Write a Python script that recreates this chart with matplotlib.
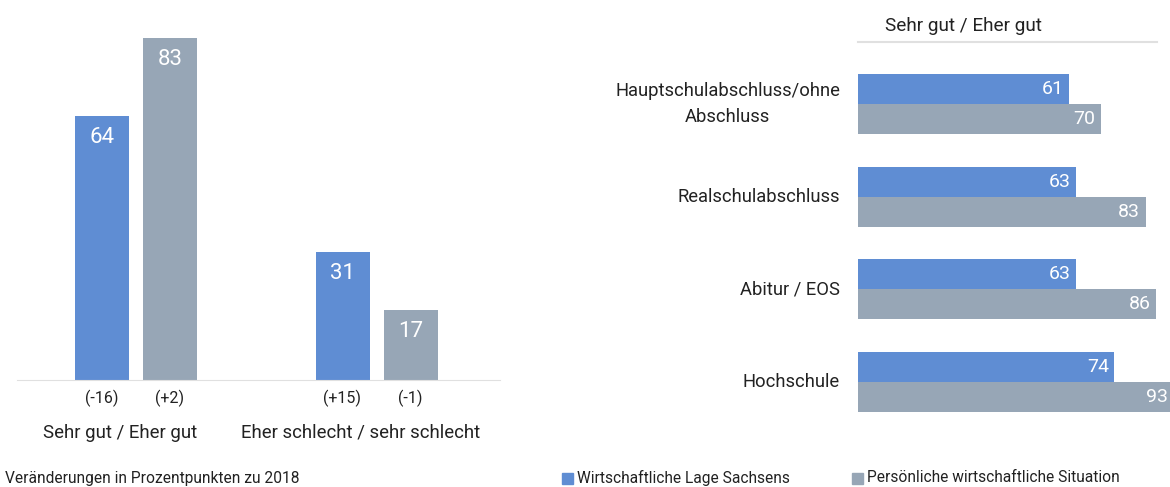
import matplotlib
matplotlib.use("Agg")
import matplotlib.pyplot as plt
from matplotlib import font_manager
from matplotlib.patches import Rectangle

# pick a narrow face if there is one
names = {f.name for f in font_manager.fontManager.ttflist}
font = "Liberation Sans Narrow" if "Liberation Sans Narrow" in names else "Roboto"
plt.rcParams["font.family"] = [font, "DejaVu Sans"]

BLUE = "#5f8dd3"
GRAY = "#97a6b6"
TEXT = "#222222"

# left chart
left_cats = ["Sehr gut / Eher gut", "Eher schlecht / sehr schlecht"]
left_sachsen = [64, 31]
left_persoenlich = [83, 17]
left_change_sachsen = ["(-16)", "(+15)"]
left_change_persoenlich = ["(+2)", "(-1)"]

# right chart
right_cats = ["Hauptschulabschluss/ohne\nAbschluss", "Realschulabschluss", "Abitur / EOS", "Hochschule"]
right_sachsen = [61, 63, 63, 74]
right_persoenlich = [70, 83, 86, 93]

legend_labels = ["Wirtschaftliche Lage Sachsens", "Persönliche wirtschaftliche Situation"]

W, H = 1170, 487
fig = plt.figure(figsize=(W / 100, H / 100), dpi=100)

# ---- left bar chart ----
axl = fig.add_axes([17 / W, (H - 380) / H, 483 / W, 342 / H])
step = 240.5
bw = 54 / step
off = 34 / step
xs = list(range(len(left_cats)))
xb = [x - off for x in xs]
xg = [x + off for x in xs]
axl.bar(xb, left_sachsen, width=bw, color=BLUE)
axl.bar(xg, left_persoenlich, width=bw, color=GRAY)
axl.set_xlim((17 - 136) / step, (500 - 136) / step)
axl.set_ylim(0, 83)
for s in ["top", "right", "left"]:
    axl.spines[s].set_visible(False)
axl.spines["bottom"].set_color("#e0e0e0")
axl.set_yticks([])
axl.set_xticks([])
for x, v in zip(xb + xg, left_sachsen + left_persoenlich):
    axl.annotate(str(v), (x, v), xytext=(0, -8), textcoords="offset points",
                 ha="center", va="top", color="white", fontsize=16)
for x, t in zip(xb + xg, left_change_sachsen + left_change_persoenlich):
    axl.annotate(t, (x, 0), xytext=(0, -13), textcoords="offset points",
                 ha="center", va="center", color=TEXT, fontsize=11.5)
for x, t in zip(xs, left_cats):
    axl.annotate(t, (x - 16 / step, 0), xytext=(0, -38), textcoords="offset points",
                 ha="center", va="center", color=TEXT, fontsize=13.4)

# ---- right horizontal bar chart ----
px = 3.465
gap = 92.7
bh = 30 / gap
axr = fig.add_axes([858 / W, (H - 412) / H, (93 * px) / W, 370 / H])
ys = list(range(len(right_cats)))
yb = [y - bh / 2 for y in ys]
yg = [y + bh / 2 for y in ys]
axr.barh(yb, right_sachsen, height=bh, color=BLUE)
axr.barh(yg, right_persoenlich, height=bh, color=GRAY)
axr.set_xlim(0, 93)
axr.set_ylim(3 + bh, -(104 - 42) / gap)
for s in ["bottom", "right", "left"]:
    axr.spines[s].set_visible(False)
axr.spines["top"].set_color("#e0e0e0")
axr.spines["top"].set_linewidth(1.5)
axr.spines["top"].set_bounds(0, (1157 - 858) / px)
axr.set_xticks([])
axr.set_yticks(ys, right_cats, fontsize=13.2, color=TEXT)
axr.tick_params(axis="y", length=0, pad=13)
for lab in axr.get_yticklabels():
    lab.set_multialignment("center")
    lab.set_verticalalignment("center")
    lab.set_linespacing(1.6)
vis = (1173 - 858) / px
for y, v in zip(yb + yg, right_sachsen + right_persoenlich):
    axr.annotate(str(v), (min(v, vis), y), xytext=(-4, 0), textcoords="offset points",
                 ha="right", va="center", color="white", fontsize=14)
fig.text(885 / W, (H - 26) / H, "Sehr gut / Eher gut", ha="left", va="center",
         color=TEXT, fontsize=13.7)

# ---- footer ----
fig.text(5 / W, (H - 478) / H, "Veränderungen in Prozentpunkten zu 2018",
         ha="left", va="center", color=TEXT, fontsize=11.2)
for x0, c, lab in zip([562, 852], [BLUE, GRAY], legend_labels):
    fig.patches.append(Rectangle((x0 / W, (H - 484) / H), 11 / W, 11 / H,
                                 transform=fig.transFigure, color=c))
    fig.text((x0 + 15) / W, (H - 478) / H, lab, ha="left", va="center",
             color=TEXT, fontsize=11.2)

fig.savefig("out.png", dpi=100)
